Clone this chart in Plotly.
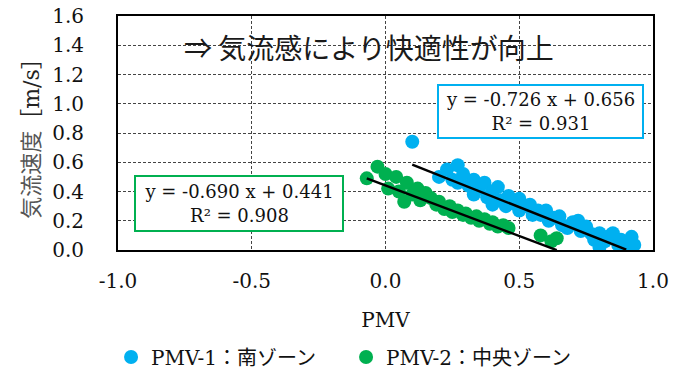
import plotly.graph_objects as go

# PMV vs. air velocity, south zone (PMV-1)
south_pmv = [0.10, 0.20, 0.23, 0.25, 0.27, 0.27, 0.29, 0.31, 0.33, 0.33, 0.35, 0.37,
             0.38, 0.40, 0.40, 0.42, 0.43, 0.45, 0.46, 0.48, 0.50, 0.50, 0.52, 0.54,
             0.55, 0.57, 0.58, 0.60, 0.61, 0.63, 0.65, 0.66, 0.68, 0.70, 0.72, 0.73,
             0.75, 0.77, 0.78, 0.80, 0.80, 0.82, 0.84, 0.85, 0.87, 0.88, 0.90, 0.92, 0.93]
south_vel = [0.74, 0.50, 0.55, 0.48, 0.58, 0.46, 0.52, 0.44, 0.48, 0.38, 0.42, 0.46,
             0.36, 0.40, 0.31, 0.43, 0.34, 0.30, 0.37, 0.32, 0.35, 0.27, 0.30, 0.31,
             0.24, 0.27, 0.24, 0.27, 0.20, 0.22, 0.23, 0.17, 0.15, 0.19, 0.20, 0.13,
             0.16, 0.11, 0.07, 0.115, 0.02, 0.06, 0.10, 0.115, 0.035, 0.07, 0.01, 0.09, 0.035]

# PMV vs. air velocity, central zone (PMV-2)
central_pmv = [-0.07, -0.03, 0.00, 0.01, 0.04, 0.05, 0.07, 0.08, 0.10, 0.12, 0.13, 0.15,
               0.17, 0.19, 0.20, 0.22, 0.24, 0.25, 0.27, 0.29, 0.30, 0.32, 0.34, 0.35,
               0.37, 0.39, 0.40, 0.42, 0.44, 0.46, 0.58, 0.62, 0.64]
central_vel = [0.49, 0.57, 0.52, 0.42, 0.50, 0.40, 0.33, 0.46, 0.38, 0.42, 0.34, 0.39,
               0.355, 0.31, 0.33, 0.28, 0.30, 0.26, 0.27, 0.24, 0.25, 0.22, 0.23, 0.20,
               0.21, 0.18, 0.19, 0.16, 0.17, 0.15, 0.10, 0.06, 0.08]

# Linear fits (slope, intercept, R²) and the PMV span each fit is drawn over
south_fit = {"slope": -0.726, "intercept": 0.656, "r2": 0.931, "span": [0.10, 0.90]}
central_fit = {"slope": -0.690, "intercept": 0.441, "r2": 0.908, "span": [-0.07, 0.64]}

series_names = ["PMV-1：南ゾーン", "PMV-2：中央ゾーン"]
x_tick_vals = [-1.0, -0.5, 0.0, 0.5, 1.0]
x_tick_text = ["-1.0", "-0.5", "0.0", "0.5", "1.0"]
y_tick_vals = [0.0, 0.2, 0.4, 0.6, 0.8, 1.0, 1.2, 1.4, 1.6]
y_tick_text = ["0.0", "0.2", "0.4", "0.6", "0.8", "1.0", "1.2", "1.4", "1.6"]
note_text = "⇒ 気流感により快適性が向上"

BLUE = "#00B0F0"
GREEN = "#00B050"
SERIF = "DejaVu Serif, Noto Sans CJK JP"


def fit_line(fit):
    xs = fit["span"]
    ys = [fit["slope"] * x + fit["intercept"] for x in xs]
    return xs, ys


def fit_label(fit):
    return (f"y = -{abs(fit['slope']):.3f} x + {fit['intercept']:.3f}"
            f"<br>R² = {fit['r2']:.3f}")


fig = go.Figure()
fig.add_trace(go.Scatter(x=south_pmv, y=south_vel, mode="markers", name=series_names[0],
                         marker=dict(color=BLUE, size=14, line=dict(width=0))))
fig.add_trace(go.Scatter(x=central_pmv, y=central_vel, mode="markers", name=series_names[1],
                         marker=dict(color=GREEN, size=14, line=dict(width=0))))
for fit in (south_fit, central_fit):
    lx, ly = fit_line(fit)
    fig.add_trace(go.Scatter(x=lx, y=ly, mode="lines", showlegend=False,
                             line=dict(color="black", width=2.5), hoverinfo="skip"))

grid = dict(showgrid=True, gridcolor="#444444", gridwidth=1, griddash="3px,2px",
            zeroline=False, showline=True, linecolor="black", linewidth=2, mirror=True,
            automargin=False, tickfont=dict(family=SERIF, size=20, color="#111111"))

fig.update_layout(
    width=686, height=371,
    margin=dict(l=118, r=33, t=16, b=121, autoexpand=False),
    paper_bgcolor="white", plot_bgcolor="white",
    showlegend=True,
    legend=dict(orientation="h", x=-0.013, xanchor="left", y=-0.457, yanchor="middle",
                font=dict(family=SERIF, size=20, color="#111111"),
                itemwidth=30, entrywidth=190, entrywidthmode="pixels"),
    xaxis=dict(range=[-1, 1], tickvals=x_tick_vals, ticktext=x_tick_text,
               ticks="", ticklabelstandoff=12,
               title=dict(text="PMV", font=dict(family=SERIF, size=20, color="#111111"),
                          standoff=21),
               **grid),
    yaxis=dict(range=[0, 1.6], tickvals=y_tick_vals, ticktext=y_tick_text,
               ticks="", ticklabelstandoff=28,
               title=dict(text="<span style='color:#555555'>気流速度</span>［m/s］",
                          font=dict(family=SERIF, size=22, color="#222222"),
                          standoff=6),
               **grid),
)

fig.add_annotation(x=0.58, y=0.944, xref="x", yref="y", text=fit_label(south_fit),
                   showarrow=False, align="center",
                   font=dict(family=SERIF, size=18, color="#111111"),
                   bgcolor="white", bordercolor=BLUE, borderwidth=2, borderpad=2,
                   width=199, height=47)
fig.add_annotation(x=-0.5495, y=0.318, xref="x", yref="y", text=fit_label(central_fit),
                   showarrow=False, align="center",
                   font=dict(family=SERIF, size=18, color="#111111"),
                   bgcolor="white", bordercolor=GREEN, borderwidth=2, borderpad=2,
                   width=202, height=49)
fig.add_annotation(x=-0.06, y=1.388, xref="x", yref="y", text=note_text,
                   showarrow=False,
                   font=dict(family="Noto Sans CJK JP", size=28, color="#1a1a1a"))

fig.write_html("out.html")
